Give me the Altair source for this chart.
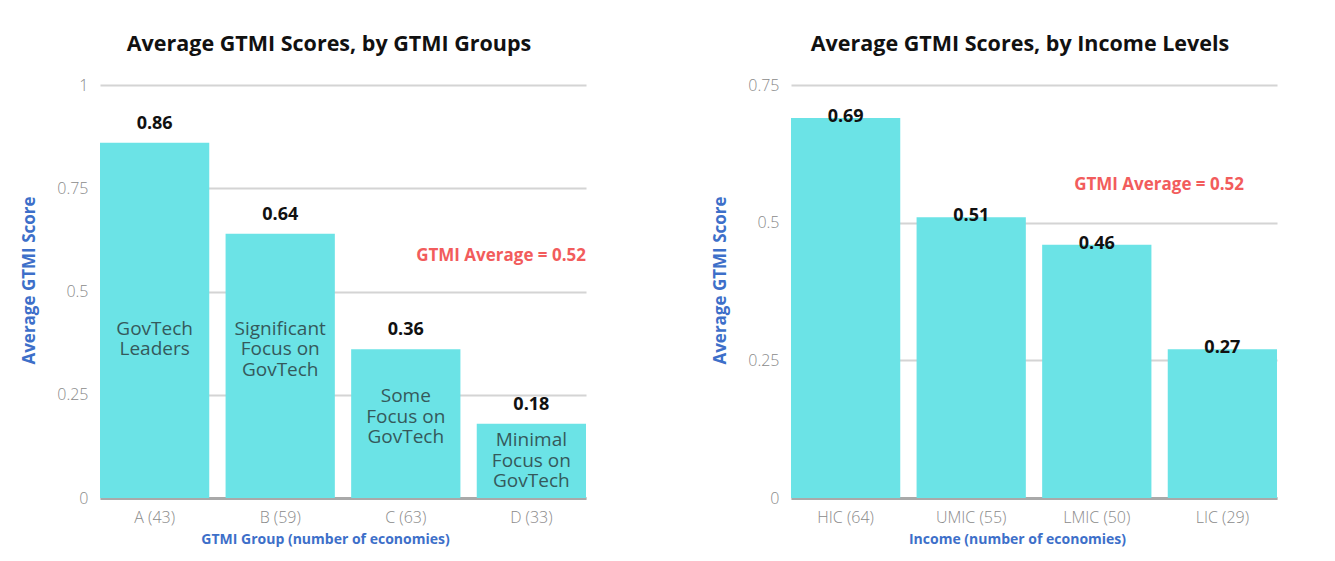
import altair as alt
import pandas as pd

# ---- data ----
groups = ["A (43)", "B (59)", "C (63)", "D (33)"]
group_scores = [0.86, 0.64, 0.36, 0.18]
group_names = ["GovTech\nLeaders", "Significant\nFocus on\nGovTech", "Some\nFocus on\nGovTech", "Minimal\nFocus on\nGovTech"]

incomes = ["HIC (64)", "UMIC (55)", "LMIC (50)", "LIC (29)"]
income_scores = [0.69, 0.51, 0.46, 0.27]

gtmi_average = 0.52
left_ticks = [0, 0.25, 0.5, 0.75, 1]
right_ticks = [0, 0.25, 0.5, 0.75]

BAR = "#6be3e6"
BLUE = "#3d6fc9"
RED = "#f25c5c"
FONT = "Open Sans"


def make_panel(cats, vals, title, xtitle, ymax, yvals, title_dx, xtitle_x,
               value_dy, annot_dx, names=None):
    df = pd.DataFrame({
        "cat": cats,
        "v": vals,
        "lab": [f"{v:.2f}" for v in vals],
        "name": names if names else [""] * len(cats),
    })
    x = alt.X(
        "cat:N", sort=cats, title=xtitle,
        scale=alt.Scale(paddingInner=0.13, paddingOuter=0),
        axis=alt.Axis(
            labelAngle=0, labelFont=FONT, labelFontSize=16, labelFontWeight=300,
            labelColor="#8a8a8a", labelPadding=11, ticks=False,
            domainColor="#a9a9a9", domainWidth=3,
            titleFont=FONT, titleFontSize=14, titleFontWeight="bold",
            titleColor=BLUE, titlePadding=7, titleX=xtitle_x, grid=False,
        ),
    )
    y = alt.Y(
        "v:Q",
        scale=alt.Scale(domain=[0, ymax], nice=False, zero=True),
        axis=alt.Axis(
            values=yvals, format=".2~f", title="Average GTMI Score",
            labelFont=FONT, labelFontSize=16, labelFontWeight=300,
            labelColor="#8a8a8a", labelPadding=12, ticks=False, domain=False,
            gridColor="#d4d4d4", gridWidth=2,
            titleFont=FONT, titleFontSize=17, titleFontWeight="bold",
            titleColor=BLUE, titlePadding=18, titleY=195,
        ),
    )
    base = alt.Chart(df).encode(x=x, y=y)
    bars = base.mark_bar(color=BAR)
    values = base.mark_text(
        font=FONT, fontSize=18, fontWeight="bold", color="#111111",
        baseline="middle", dy=value_dy,
    ).encode(text="lab:N")
    layers = [bars, values]
    if names:
        inner = alt.Chart(df).transform_calculate(
            mid="min(0.59 * datum.v + 0.034, 0.41)"
        ).mark_text(
            font=FONT, fontSize=19, color="#35595b", baseline="middle",
            lineBreak="\n", lineHeight=20.5,
        ).encode(x=alt.X("cat:N", sort=cats), y=alt.Y("mid:Q"), text="name:N")
        layers.append(inner)
    adf = pd.DataFrame({"cat": [cats[-1]], "v": [gtmi_average],
                        "lab": [f"GTMI Average = {gtmi_average:.2f}"]})
    annot = alt.Chart(adf).mark_text(
        font=FONT, fontSize=17, fontWeight="bold", color=RED,
        align="right", baseline="middle", dx=annot_dx, dy=-27,
    ).encode(x=alt.X("cat:N", sort=cats, bandPosition=1), y=alt.Y("v:Q"), text="lab:N")
    layers.append(annot)
    return alt.layer(*layers).properties(
        width=486, height=413,
        title=alt.TitleParams(title, font=FONT, fontSize=21.5, fontWeight="bold",
                              color="#111111", anchor="middle", frame="group",
                              dx=title_dx, offset=22),
    )


left = make_panel(groups, group_scores, "Average GTMI Scores, by GTMI Groups",
                  "GTMI Group (number of economies)", 1, left_ticks, -14, 225,
                  -19, 0, names=group_names)
right = make_panel(incomes, income_scores, "Average GTMI Scores, by Income Levels",
                   "Income  (number of economies)", 0.75, right_ticks, -14, 226,
                   -1, -33)

chart = alt.hconcat(left, right, spacing=125).properties(
    padding={"left": 12, "top": 25, "right": 5, "bottom": 5},
    background="white",
).configure_view(stroke=None)

chart.save("out.html", embed_options={"renderer": "svg", "actions": False})
